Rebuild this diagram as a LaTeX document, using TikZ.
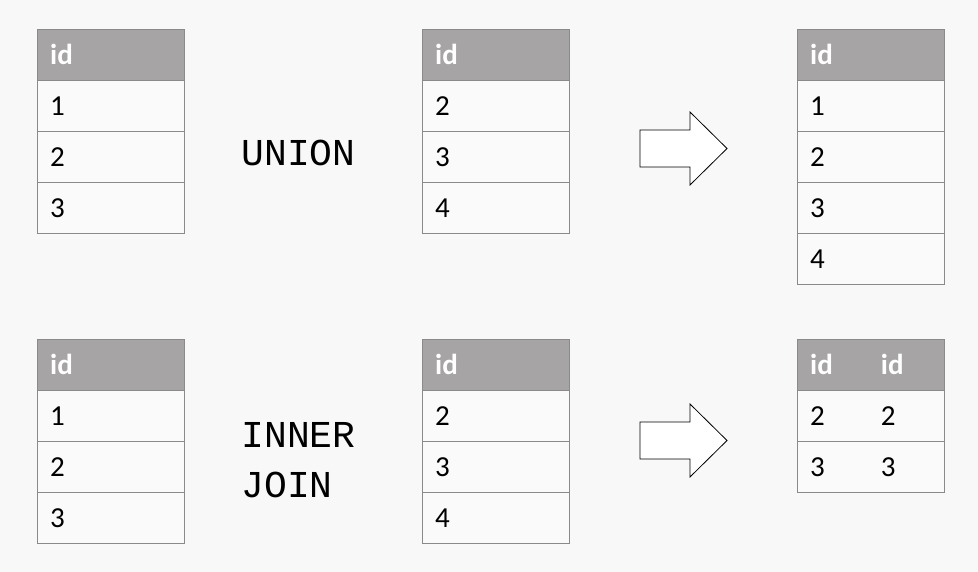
\documentclass[tikz,border=0pt]{standalone}
\usepackage{fontspec}
\setmainfont{Carlito}
\setmonofont{Liberation Mono}
\usetikzlibrary{positioning}
\definecolor{bgcol}{HTML}{F8F8F8}
\definecolor{headcol}{HTML}{A6A4A4}
\definecolor{linecol}{HTML}{8A8A8A}
\definecolor{cellcol}{HTML}{FAFAFA}

% one table: name, left x, top y, list of values
\newcommand{\idtable}[4]{%
  \node[headcell] (#1h) at (#2,#3) {id};
  \foreach \v [count=\i] in {#4} {
    \node[cell] (#1r\i) at (#2,#3+51*\i) {\v};
  }
}

\begin{document}
\begin{tikzpicture}[
    x=1pt, y=-1pt,
    cell/.style={rectangle, draw=linecol, fill=cellcol, anchor=north west, minimum width=147pt, minimum height=51pt, inner xsep=13pt, text width=121pt, font=\fontsize{29}{30}\selectfont, align=left},
    headcell/.style={cell, fill=headcol, text=white, font=\fontsize{29}{30}\selectfont\bfseries},
    optext/.style={font=\ttfamily\fontsize{38}{50}\selectfont, anchor=west, align=left},
    bigarrow/.style={draw=black, fill=white, line width=0.8pt}
]
\fill[bgcol] (0,0) rectangle (978,572);
\useasboundingbox (0,0) rectangle (978,572);

% UNION row
\idtable{ua}{37}{29}{1,2,3}
\idtable{ub}{422}{29}{2,3,4}
\idtable{uc}{797}{29}{1,2,3,4}
\node[optext] (union) at (238,153) {UNION};
\draw[bigarrow] (640,130) -- (690,130) -- (690,112) -- (727,148.5) -- (690,185) -- (690,167) -- (640,167) -- cycle;

% INNER JOIN row
\idtable{ja}{37}{339}{1,2,3}
\idtable{jb}{422}{339}{2,3,4}
\node[optext] (join) at (238,460) {INNER\\JOIN};
\draw[bigarrow] (640,422) -- (690,422) -- (690,404) -- (727,440.5) -- (690,477) -- (690,459) -- (640,459) -- cycle;

% result of the join: two columns
\node[headcell] (jch) at (797,339) {id\hspace{48pt}id};
\node[cell] (jcr1) at (797,390) {2\hspace{56pt}2};
\node[cell] (jcr2) at (797,441) {3\hspace{56pt}3};
\end{tikzpicture}
\end{document}
